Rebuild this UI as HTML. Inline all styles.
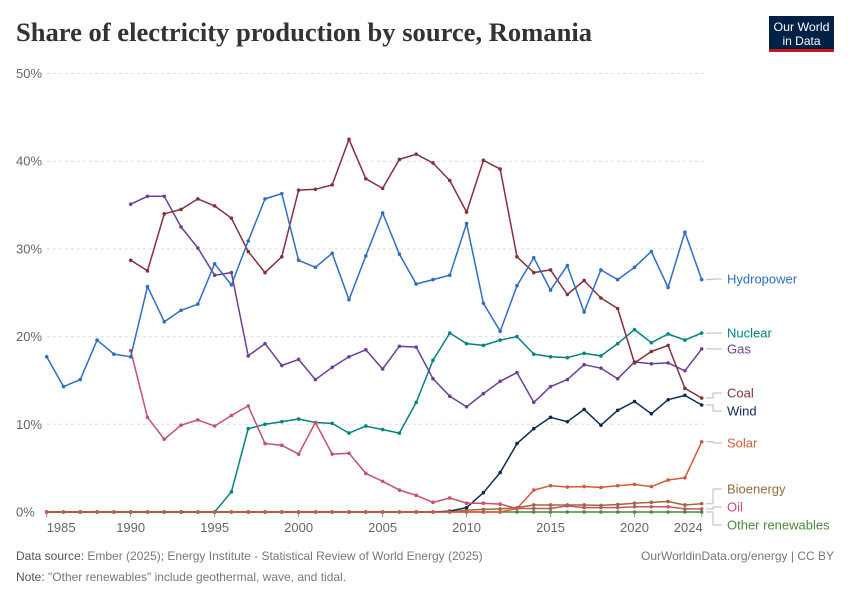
<!DOCTYPE html>
<html><head><meta charset="utf-8"><style>
html,body{margin:0;padding:0;background:#fff;}
svg{display:block;font-family:"Liberation Sans",sans-serif;}
</style></head><body>
<svg id="chart" width="850" height="600" viewBox="0 0 850 600">
<text x="16" y="41" font-family="Liberation Serif,serif" font-size="26" font-weight="bold" fill="#333" textLength="576" lengthAdjust="spacingAndGlyphs">Share of electricity production by source, Romania</text>
<g>
<rect x="769" y="16" width="65" height="36" fill="#002147"/>
<rect x="769" y="49" width="65" height="3" fill="#c4161c"/>
<text x="801.5" y="31" text-anchor="middle" font-size="12" fill="#fff" textLength="56" lengthAdjust="spacingAndGlyphs">Our World</text>
<text x="801.5" y="45" text-anchor="middle" font-size="12" fill="#fff">in Data</text>
</g>
<g id="grid"></g><g id="xaxis"></g><g id="series"></g><g id="labels"></g>
<text x="16" y="560" font-size="12" fill="#777"><tspan fill="#555">Data source:</tspan> Ember (2025); Energy Institute - Statistical Review of World Energy (2025)</text>
<text x="16" y="581" font-size="12" fill="#777"><tspan fill="#555">Note:</tspan> "Other renewables" include geothermal, wave, and tidal.</text>
<text x="834" y="560" font-size="12" fill="#777" text-anchor="end">OurWorldinData.org/energy | CC BY</text>
</svg>
<script>
const yTicks=[0,10,20,30,40,50];
const xTicks=[1985,1990,1995,2000,2005,2010,2015,2020,2024];
const hydroStart=1985;
const hydro=[17.7,14.3,15.1,19.6,18.0,17.7,25.7,21.7,23.0,23.7,28.3,25.9,30.9,35.7,36.3,28.7,27.9,29.5,24.2,29.2,34.1,29.4,26.0,26.5,27.0,32.9,23.8,20.6,25.8,29.0,25.3,28.1,22.8,27.6,26.5,27.9,29.7,25.6,31.9,26.5];
const coalStart=1990;
const coal=[28.7,27.5,34.0,34.5,35.7,34.9,33.5,29.7,27.3,29.1,36.7,36.8,37.3,42.5,38.0,36.9,40.2,40.8,39.8,37.8,34.2,40.1,39.1,29.1,27.3,27.6,24.8,26.4,24.4,23.2,17.0,18.3,19.0,14.1,13.0];
const gasStart=1990;
const gas=[35.1,36.0,36.0,32.5,30.1,27.0,27.3,17.8,19.2,16.7,17.4,15.1,16.5,17.7,18.5,16.3,18.9,18.8,15.2,13.2,12.0,13.5,14.9,15.9,12.5,14.3,15.1,16.8,16.4,15.2,17.1,16.9,17.0,16.1,18.6];
const nuclearStart=1985;
const nuclear=[0,0,0,0,0,0,0,0,0,0,0,2.3,9.5,10.0,10.3,10.6,10.2,10.1,9.0,9.8,9.4,9.0,12.5,17.3,20.4,19.2,19.0,19.6,20.0,18.0,17.7,17.6,18.1,17.8,19.2,20.8,19.3,20.3,19.6,20.4];
const oilStart=1990;
const oil=[18.4,10.8,8.3,9.9,10.5,9.8,11.0,12.1,7.8,7.6,6.6,10.2,6.6,6.7,4.4,3.5,2.5,1.9,1.1,1.6,1.0,1.0,0.9,0.4,0.4,0.4,0.7,0.5,0.5,0.5,0.6,0.6,0.6,0.35,0.35];
const windStart=1985;
const wind=[0,0,0,0,0,0,0,0,0,0,0,0,0,0,0,0,0,0,0,0,0,0,0,0,0.1,0.5,2.2,4.5,7.8,9.5,10.8,10.3,11.7,9.9,11.6,12.6,11.2,12.8,13.3,12.2];
const bioStart=1985;
const bio=[0,0,0,0,0,0,0,0,0,0,0,0,0,0,0,0,0,0,0,0,0,0,0,0,0,0.2,0.3,0.35,0.5,0.8,0.8,0.8,0.8,0.75,0.85,1.0,1.1,1.2,0.8,0.95];
const otherStart=1985;
const other=[0,0,0,0,0,0,0,0,0,0,0,0,0,0,0,0,0,0,0,0,0,0,0,0,0,0,0,0,0,0,0,0,0,0,0,0,0,0,0,0];
const solarStart=1985;
const solar=[0,0,0,0,0,0,0,0,0,0,0,0,0,0,0,0,0,0,0,0,0,0,0,0,0,0,0,0,0.4,2.5,3.0,2.85,2.9,2.8,3.0,3.15,2.9,3.65,3.9,8.0];

const NS="http://www.w3.org/2000/svg";
const X0=46.7,X1=701.7,Y0=512,Y50=73.5;
const xs=y=>X0+(y-1985)*(X1-X0)/(2024-1985);
const ys=v=>Y0-v*(Y0-Y50)/50;
function mk(t,p,a){const e=document.createElementNS(NS,t);for(const k in a)e.setAttribute(k,a[k]);p.appendChild(e);return e;}
const grid=document.getElementById('grid');
yTicks.forEach(v=>{
  if(v>0){const l=mk('line',grid,{x1:X0,x2:707,y1:ys(v),y2:ys(v),stroke:'#ddd','stroke-dasharray':'3,3'});
  
  }
  const t=mk('text',grid,{x:16,y:ys(v)+4.5,'font-size':13,fill:'#666'});t.textContent=v+'%';
  
  
});
const xa=document.getElementById('xaxis');
xTicks.forEach((yr,i)=>{
  let anchor='middle',x=xs(yr);
  if(i===0){anchor='start';x=xs(yr);}
  if(i===xTicks.length-1){anchor='end';x=xs(yr)+1;}
  mk('line',xa,{x1:xs(yr),x2:xs(yr),y1:512,y2:517,stroke:'#999'});
  const t=mk('text',xa,{x:x,y:532,'font-size':13,fill:'#666','text-anchor':anchor});t.textContent=yr;
  
  
});
const sg=document.getElementById('series');
const series=[
 ['other',other,otherStart,'#4c8a3f'],['bioenergy',bio,bioStart,'#9a6b35'],['nuclear',nuclear,nuclearStart,'#00847e'],['wind',wind,windStart,'#0c2b58'],['solar',solar,solarStart,'#d65a3a'],['oil',oil,oilStart,'#c8506a'],['gas',gas,gasStart,'#6d3f94'],['coal',coal,coalStart,'#86303a'],['hydropower',hydro,hydroStart,'#2e6ec6']];
series.forEach(([n,d,s,c])=>{
  const g=mk('g',sg,{});
  
  
  const pts=d.map((v,i)=>xs(s+i).toFixed(1)+','+ys(v).toFixed(1)).join(' ');
  const pl=mk('polyline',g,{points:pts,fill:'none',stroke:c,'stroke-width':1.5,'stroke-linejoin':'round'});
  
  
  d.forEach((v,i)=>{const p=mk('circle',g,{cx:xs(s+i),cy:ys(v),r:1.8,fill:c});
    
    });
});
const lg=document.getElementById('labels');
const labs=[['Hydropower',279,hydro,'#2e6ec6'],['Nuclear',333,nuclear,'#00847e'],['Gas',349,gas,'#6d3f94'],['Coal',393,coal,'#86303a'],['Wind',411,wind,'#0c2b58'],['Solar',443,solar,'#d65a3a'],['Bioenergy',489,bio,'#9a6b35'],['Oil',507,oil,'#c8506a'],['Other renewables',525,other,'#4c8a3f']];
labs.forEach(([n,ly,d,c])=>{
  const yv=ys(d[d.length-1]);
  const p=mk('path',lg,{d:`M706,${yv.toFixed(1)} H713 V${ly} H722`,fill:'none',stroke:'#bbb','stroke-width':1});
  
  
  const t=mk('text',lg,{x:727,y:ly+4.5,'font-size':13,fill:c});t.textContent=n;
  
  
});
</script>
</body></html>
